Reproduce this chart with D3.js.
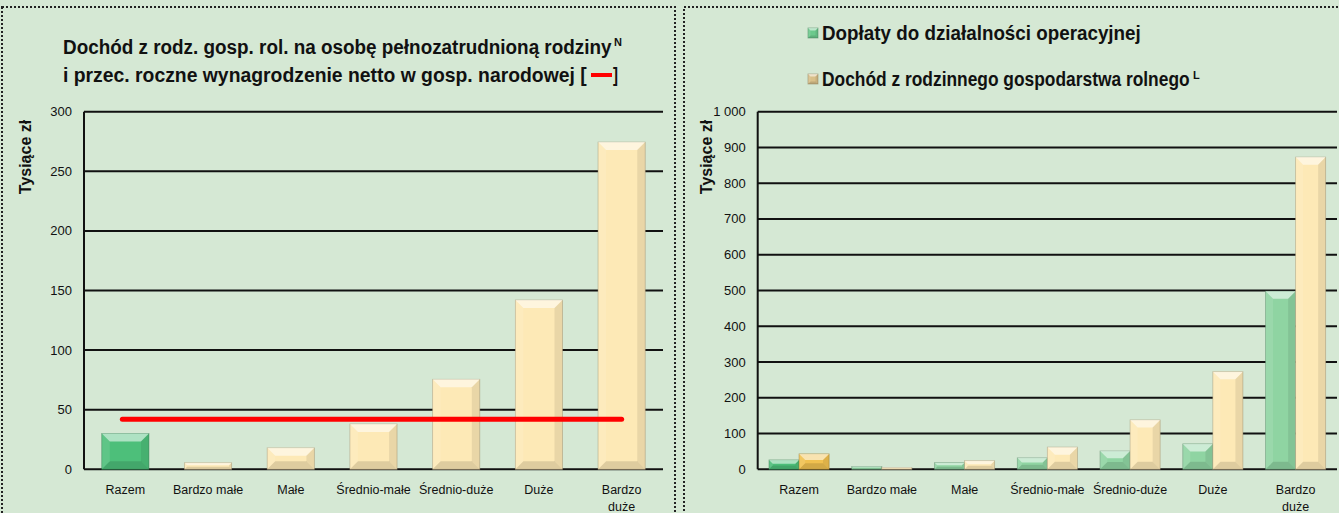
<!DOCTYPE html>
<html>
<head>
<meta charset="utf-8">
<script src="https://cdnjs.cloudflare.com/ajax/libs/d3/7.8.5/d3.min.js"></script>
<style>
  html, body { margin: 0; padding: 0; background: #d5e8d4; }
  svg { display: block; }
  text { font-family: "Liberation Sans Narrow", "Arial Narrow", "Liberation Sans", Arial, sans-serif; fill: #111; }
</style>
</head>
<body>
<div id="canvas"></div>
<script>
// --- data (tysiące zł)
var categories = ['Razem', 'Bardzo małe', 'Małe', 'Średnio-małe', 'Średnio-duże', 'Duże', 'Bardzo duże'];
var incomePerPerson = [30, 5.5, 18, 38, 75.5, 142, 274.5];
var avgNetWage = 42;
var subsidies = [26, 8, 18.5, 32, 51, 71, 498];
var farmIncome = [43, 5, 24, 62, 138, 273, 873];
var leftTicks = [0, 50, 100, 150, 200, 250, 300];
var rightTicks = [0, 100, 200, 300, 400, 500, 600, 700, 800, 900, 1000];

var W = 1339, H = 513;
var svg = d3.select('#canvas').append('svg')
  .attr('width', W).attr('height', H);

svg.append('rect').attr('width', W).attr('height', H).attr('fill', '#d5e8d4');

// dotted panel frames
function frame(x, y, w, h) {
  svg.append('rect')
    .attr('x', x).attr('y', y).attr('width', w).attr('height', h)
    .attr('fill', 'none').attr('stroke', '#222').attr('stroke-width', 2)
    .attr('stroke-dasharray', '2,2');
}
frame(2, 7, 673, 520);
frame(684, 7, 670, 520);

// bar with bevelled edges
function bevelBar(g, x, y, w, h, color) {
  var b = Math.min(8, h / 2.5, w / 4);
  var bar = g.append('g');
  bar.append('rect').attr('x', x).attr('y', y).attr('width', w).attr('height', h)
    .attr('fill', color).attr('stroke', d3.color(color).darker(1.2)).attr('stroke-width', 0.8).attr('stroke-opacity', 0.6);
  function poly(pts, fill, op) {
    bar.append('polygon').attr('points', pts.map(function(p) { return p.join(','); }).join(' '))
      .attr('fill', fill).attr('opacity', op);
  }
  poly([[x, y], [x + w, y], [x + w - b, y + b], [x + b, y + b]], '#fff', 0.55);
  poly([[x, y], [x + b, y + b], [x + b, y + h - b], [x, y + h]], '#fff', 0.1);
  poly([[x + w, y], [x + w, y + h], [x + w - b, y + h - b], [x + w - b, y + b]], '#000', 0.08);
  poly([[x, y + h], [x + b, y + h - b], [x + w - b, y + h - b], [x + w, y + h]], '#000', 0.12);
}

function wrapLabel(sel, x) {
  sel.each(function() {
    var t = d3.select(this), words = t.text();
    if (words === 'Bardzo duże') {
      t.text(null);
      t.append('tspan').attr('x', x).attr('dy', 0).text('Bardzo');
      t.append('tspan').attr('x', x).attr('dy', '1.35em').text('duże');
    }
  });
}

function drawPanel(opts) {
  var g = svg.append('g');
  var x = d3.scaleBand().domain(categories).range([opts.x0, opts.x1]).paddingInner(0).paddingOuter(0);
  var y = d3.scaleLinear().domain([0, opts.max]).range([469.3, 111.7]);

  // gridlines
  g.selectAll('.grid').data(opts.ticks).enter().append('line')
    .attr('x1', opts.x0).attr('x2', opts.x1)
    .attr('y1', function(d) { return y(d); }).attr('y2', function(d) { return y(d); })
    .attr('stroke', '#111').attr('stroke-width', 2);
  g.append('line').attr('x1', opts.x0).attr('x2', opts.x0).attr('y1', y(0)).attr('y2', y(opts.max))
    .attr('stroke', '#111').attr('stroke-width', 2);

  // tick labels
  g.selectAll('.tick').data(opts.ticks).enter().append('text')
    .attr('x', opts.x0 - 12).attr('y', function(d) { return y(d) + 4.5; })
    .attr('text-anchor', 'end').style('font-size', '13px')
    .text(function(d) { return d >= 1000 ? '1 000' : d; });

  // category labels
  g.selectAll('.cat').data(categories).enter().append('text')
    .attr('x', function(d) { return x(d) + x.bandwidth() / 2; })
    .attr('y', 494).attr('text-anchor', 'middle').style('font-size', '12.5px')
    .text(function(d) { return d; })
    .each(function(d) { wrapLabel(d3.select(this), x(d) + x.bandwidth() / 2); });

  // axis title
  g.append('text')
    .attr('transform', 'translate(' + opts.titleX + ',157) rotate(-90)')
    .attr('text-anchor', 'middle').style('font-size', '16px').style('font-weight', 'bold')
    .text('Tysiące zł');

  return { g: g, x: x, y: y };
}

// --- left panel
var L = drawPanel({ x0: 84, x1: 663, max: 300, ticks: leftTicks, titleX: 31 });
var bwL = L.x.bandwidth() * 0.57;
incomePerPerson.forEach(function(v, i) {
  var c = categories[i];
  var cx = L.x(c) + L.x.bandwidth() / 2;
  bevelBar(L.g, cx - bwL / 2, L.y(v), bwL, L.y(0) - L.y(v), i === 0 ? '#4dbf7a' : '#fde9b6');
});
// average net wage line
var first = categories[0], last = categories[categories.length - 1];
L.g.append('line')
  .attr('x1', L.x(first) + L.x.bandwidth() / 2 - 3).attr('x2', L.x(last) + L.x.bandwidth() / 2)
  .attr('y1', L.y(avgNetWage)).attr('y2', L.y(avgNetWage))
  .attr('stroke', '#ff0000').attr('stroke-width', 5).attr('stroke-linecap', 'round');

// bold text scaled horizontally to the reference width (narrow look)
function boldText(x, y, str, len) {
  var t = svg.append('text').style('font-size', '20px').style('font-weight', 'bold').text(str);
  var nat = t.node().getComputedTextLength();
  t.attr('transform', 'translate(' + x + ',' + y + ') scale(' + (len / nat) + ',1)');
  return t;
}
function sup(x, y, str) {
  svg.append('text').attr('x', x).attr('y', y)
    .style('font-size', '11px').style('font-weight', 'bold').text(str);
}
boldText(63, 54, 'Dochód z rodz. gosp. rol. na osobę pełnozatrudnioną rodziny', 549);
sup(614, 46, 'N');
boldText(63, 82, 'i przec. roczne wynagrodzenie netto w gosp. narodowej [', 524);
svg.append('line').attr('x1', 591).attr('x2', 612).attr('y1', 75).attr('y2', 75)
  .attr('stroke', '#ff0000').attr('stroke-width', 4);
boldText(613, 82, ']', 5);

// --- right panel
var R = drawPanel({ x0: 757.7, x1: 1337, max: 1000, ticks: rightTicks, titleX: 712 });
var bwR = R.x.bandwidth() * 0.363;
categories.forEach(function(c, i) {
  var cx = R.x(c) + R.x.bandwidth() / 2;
  bevelBar(R.g, cx - bwR, R.y(subsidies[i]), bwR, R.y(0) - R.y(subsidies[i]), i === 0 ? '#4cbe79' : '#8fd4a2');
  bevelBar(R.g, cx, R.y(farmIncome[i]), bwR, R.y(0) - R.y(farmIncome[i]), i === 0 ? '#f0c150' : '#fde9b6');
});

// legend
var legend = [
  { label: 'Dopłaty do działalności operacyjnej', color: '#6cc98c', sup: '', y: 40, len: 319 },
  { label: 'Dochód z rodzinnego gospodarstwa rolnego', color: '#d9c08a', sup: 'L', y: 86, len: 368 }
];
legend.forEach(function(d) {
  bevelBar(svg, 808, d.y - 12, 10, 10, d.color);
  boldText(822, d.y, d.label, d.len);
  if (d.sup) sup(822 + d.len + 3, d.y - 7, d.sup);
});
</script>
</body>
</html>
